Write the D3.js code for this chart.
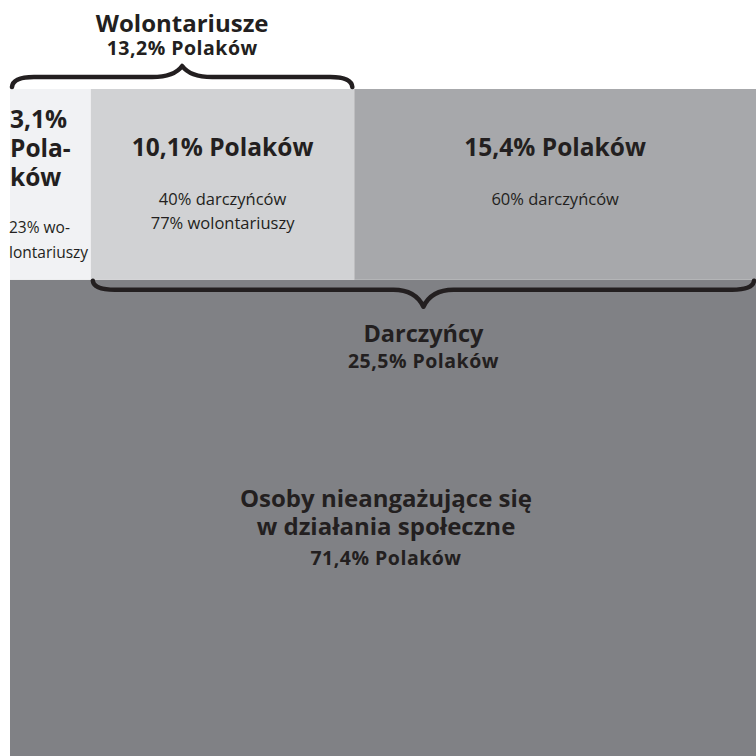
<!DOCTYPE html>
<html>
<head>
<meta charset="utf-8">
<script src="https://cdn.jsdelivr.net/npm/d3@7"></script>
<style>
  body { margin: 0; background: #fff; }
  svg text { font-family: "Open Sans", "Noto Sans", sans-serif; fill: #231f20; }
</style>
</head>
<body>
<svg id="chart" width="756" height="756"></svg>
<script>
// groups in the top band (share of Poles, %)
var groups = ["tylko wolontariusze", "wolontariusze i darczyńcy", "tylko darczyńcy"];
var shares = [3.1, 10.1, 15.4];
var groupTitles = [["3,1%", "Pola-", "ków"], ["10,1% Polaków"], ["15,4% Polaków"]];
var groupNotes = [["23% wo-", "lontariuszy"], ["40% darczyńców", "77% wolontariuszy"], ["60% darczyńców"]];
var groupColors = ["#f1f2f4", "#d1d2d4", "#a7a8ab"];

var restShare = 71.4;
var restTitle = ["Osoby nieangażujące się", "w działania społeczne", "71,4% Polaków"];

var volunteers = { label: "Wolontariusze", value: "13,2% Polaków" };
var donors = { label: "Darczyńcy", value: "25,5% Polaków" };

var svg = d3.select("#chart");
var chartLeft = 10, chartRight = 756, chartTop = 89, chartBottom = 756;

var topTotal = d3.sum(shares);
var x = d3.scaleLinear().domain([0, topTotal]).range([chartLeft, chartRight]);
var y = d3.scaleLinear().domain([0, topTotal + restShare]).range([chartTop, chartBottom]);

var cum = [0];
shares.forEach(function(s, i) { cum.push(cum[i] + s); });
var cells = shares.map(function(s, i) {
  return { name: groups[i], x0: cum[i], x1: cum[i + 1], title: groupTitles[i], note: groupNotes[i], color: groupColors[i] };
});

// bottom area: people not engaged
svg.append("rect")
  .attr("x", chartLeft).attr("y", y(topTotal))
  .attr("width", chartRight - chartLeft).attr("height", y(topTotal + restShare) - y(topTotal))
  .attr("fill", "#808185");

svg.selectAll("rect.cell").data(cells).enter().append("rect")
  .attr("class", "cell")
  .attr("x", function(d) { return x(d.x0); })
  .attr("y", y(0))
  .attr("width", function(d) { return x(d.x1) - x(d.x0); })
  .attr("height", y(topTotal) - y(0))
  .attr("fill", function(d) { return d.color; });

// narrow first cell: left aligned, stacked title
var first = cells[0];
svg.append("g").selectAll("text").data(first.title).enter().append("text")
  .attr("x", x(first.x0)).attr("y", function(d, i) { return 128 + i * 29; })
  .attr("font-size", 24.5).attr("font-weight", "bold")
  .text(function(d) { return d; });
svg.append("g").selectAll("text").data(first.note).enter().append("text")
  .attr("x", x(first.x0) - 1).attr("y", function(d, i) { return 233 + i * 25; })
  .attr("font-size", 15.5)
  .text(function(d) { return d; });

cells.slice(1).forEach(function(d) {
  var cx = (x(d.x0) + x(d.x1)) / 2;
  svg.append("text").attr("x", cx).attr("y", 156)
    .attr("text-anchor", "middle").attr("font-size", 24.5).attr("font-weight", "bold")
    .text(d.title[0]);
  svg.append("g").selectAll("text").data(d.note).enter().append("text")
    .attr("x", cx).attr("y", function(t, i) { return 205 + i * 24; })
    .attr("text-anchor", "middle").attr("font-size", 16.5)
    .text(function(t) { return t; });
});

// curly brace, dir -1 points up, +1 points down
function brace(x0, x1, yb, hLine, hTip, dir) {
  var xm = (x0 + x1) / 2;
  var yl = yb + dir * hLine;
  var tip = yb + dir * hTip;
  var p = d3.path();
  p.moveTo(x0, yb);
  p.quadraticCurveTo(x0 + 1, yl, x0 + 22, yl);
  p.lineTo(xm - 30, yl);
  p.quadraticCurveTo(xm - 8, yl, xm, tip);
  p.quadraticCurveTo(xm + 8, yl, xm + 30, yl);
  p.lineTo(x1 - 22, yl);
  p.quadraticCurveTo(x1 - 1, yl, x1, yb);
  return p.toString();
}

var volX0 = x(cum[0]), volX1 = x(cum[2]);
svg.append("path")
  .attr("d", brace(volX0 + 2, volX1 - 2, y(0) - 2, 10, 21, -1))
  .attr("fill", "none").attr("stroke", "#231f20").attr("stroke-width", 4.5)
  .attr("stroke-linecap", "round").attr("stroke-linejoin", "round");
svg.append("text").attr("x", (volX0 + volX1) / 2).attr("y", 32)
  .attr("text-anchor", "middle").attr("font-size", 24).attr("font-weight", "bold").text(volunteers.label);
svg.append("text").attr("x", (volX0 + volX1) / 2).attr("y", 55)
  .attr("text-anchor", "middle").attr("font-size", 19.5).attr("font-weight", "bold")
  .attr("letter-spacing", 0.5).text(volunteers.value);

var donX0 = x(cum[1]), donX1 = x(cum[3]);
svg.append("path")
  .attr("d", brace(donX0 + 2, donX1 - 2, y(topTotal) + 1, 9, 26, 1))
  .attr("fill", "none").attr("stroke", "#231f20").attr("stroke-width", 4.5)
  .attr("stroke-linecap", "round").attr("stroke-linejoin", "round");
svg.append("text").attr("x", (donX0 + donX1) / 2).attr("y", 342)
  .attr("text-anchor", "middle").attr("font-size", 23.5).attr("font-weight", "bold").text(donors.label);
svg.append("text").attr("x", (donX0 + donX1) / 2).attr("y", 368)
  .attr("text-anchor", "middle").attr("font-size", 19.5).attr("font-weight", "bold")
  .attr("letter-spacing", 0.5).text(donors.value);

svg.append("g").selectAll("text").data(restTitle).enter().append("text")
  .attr("x", (chartLeft + chartRight) / 2 + 3).attr("y", function(d, i) { return [507, 535, 565][i]; })
  .attr("text-anchor", "middle")
  .attr("font-size", function(d, i) { return i < 2 ? 24 : 19.5; })
  .attr("letter-spacing", function(d, i) { return i < 2 ? 0 : 0.5; })
  .attr("font-weight", "bold")
  .text(function(d) { return d; });
</script>
</body>
</html>
